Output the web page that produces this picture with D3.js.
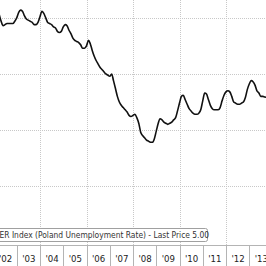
<!DOCTYPE html>
<html>
<head>
<meta charset="utf-8">
<style>
body { margin: 0; background: #fff; }
svg { display: block; }
.grid line { stroke: #c8c8c8; stroke-dasharray: 1,1; shape-rendering: crispEdges; }
.axis path, .axis line { stroke: #b4b4b4; shape-rendering: crispEdges; }
.axis text { font-family: "DejaVu Sans", sans-serif; font-size: 8.6px; fill: #222; }
.line { fill: none; stroke: #111; stroke-width: 1.6px; }
.legend rect { fill: #fff; stroke: #a0a0a0; }
.legend text { font-family: "DejaVu Sans Condensed", "DejaVu Sans", sans-serif; font-stretch: condensed; font-size: 8.4px; fill: #333; }
</style>
</head>
<body>
<svg width="266" height="266"></svg>
<script src="https://d3js.org/d3.v7.min.js"></script>
<script>

// Poland registered unemployment rate, monthly, %, from Mar 2002
var firstMonth = "2002-03";
var rate = [
  20.3, 19.7, 19.3, 19.4, 19.5, 19.5, 19.5, 19.5, 19.7, 20.0,
  20.5, 20.7, 20.6, 20.2, 19.9, 19.8, 19.7, 19.6, 19.4, 19.4, 19.6, 20.1,
  20.6, 20.4, 20.0, 19.6, 19.5, 19.4, 19.2, 19.1, 18.8, 18.7, 18.8, 19.2,
  19.4, 19.3, 18.9, 18.6, 18.2, 18.0, 17.9, 17.8, 17.6, 17.3, 17.3, 17.5,
  18.0, 17.7, 17.1, 16.6, 16.2, 15.9, 15.6, 15.4, 15.2, 15.0, 14.9, 14.8,
  15.0, 14.4, 13.7, 13.0, 12.5, 12.2, 12.0, 11.8, 11.6, 11.3, 11.2, 11.3,
  11.4, 11.1, 10.6, 9.8, 9.5, 9.3, 9.1, 9.0, 8.9, 8.9, 9.2, 9.9,
  10.6, 11.0, 10.9, 10.7, 10.6, 10.5, 10.6, 10.7, 10.9, 11.1, 11.7, 12.4,
  13.0, 13.1, 12.7, 12.3, 11.9, 11.7, 11.5, 11.4, 11.4, 11.5, 11.8, 12.6,
  13.3, 13.2, 12.7, 12.2, 11.9, 11.8, 11.8, 11.8, 12.0, 12.6, 13.1, 13.4,
  13.5, 13.4, 13.0, 12.5, 12.4, 12.3, 12.3, 12.4, 12.5, 12.9, 13.6, 14.1,
  14.4, 14.3, 14.0, 13.5, 13.3, 13.0, 13.0, 12.95, 12.9
];
var yTicks = [0, 5, 10, 15, 20];
var years = d3.range(2002, 2015);
var yearLabels = ["'02", "'03", "'04", "'05", "'06", "'07", "'08", "'09", "'10", "'11", "'12", "'13", ""];
var legendText = "ER Index (Poland Unemployment Rate) - Last Price 5.00";

var svg = d3.select("svg"),
    axisY = 244.5;

var start = d3.timeParse("%Y-%m")(firstMonth);
var data = rate.map(function(v, i) {
  // monthly values are plotted at the end of their month
  return { date: d3.timeMonth.offset(start, i + 1), value: v };
});

var x = d3.scaleTime()
    .domain([new Date(2002, 0, 1), new Date(2014, 0, 1)])
    .range([-6.5, 272.5]);

var y = d3.scaleLinear()
    .domain([0, 21.6])
    .range([242, 0]);

var yearDates = years.map(function(yr) { return new Date(yr, 0, 1); });

// grid
var grid = svg.append("g").attr("class", "grid");
grid.selectAll(".h")
    .data(yTicks.filter(function(d) { return d > 0; }))
  .enter().append("line")
    .attr("x1", 0).attr("x2", 266)
    .attr("y1", function(d) { return Math.round(y(d)) + 0.5; })
    .attr("y2", function(d) { return Math.round(y(d)) + 0.5; });
grid.selectAll(".v")
    .data(yearDates.filter(function(d) { return d.getFullYear() % 2 == 0; }))
  .enter().append("line")
    .attr("y1", 0).attr("y2", axisY)
    .attr("x1", function(d) { return Math.round(x(d)) + 0.5; })
    .attr("x2", function(d) { return Math.round(x(d)) + 0.5; });

var line = d3.line()
    .curve(d3.curveMonotoneX)
    .x(function(d) { return x(d.date); })
    .y(function(d) { return y(d.value); });

svg.append("path")
    .datum(data)
    .attr("class", "line")
    .attr("d", line);

// x axis: year separators with labels centred in each year
var halfYear = (x(yearDates[1]) - x(yearDates[0])) / 2;
var xAxis = d3.axisBottom(x)
    .tickValues(yearDates)
    .tickFormat(function(d, i) { return yearLabels[i]; })
    .tickSize(22)
    .tickSizeOuter(0);

var gx = svg.append("g")
    .attr("class", "axis")
    .attr("transform", "translate(0," + axisY + ")")
    .call(xAxis);
gx.select(".domain").attr("d", "M0,0.5H266");
gx.selectAll(".tick text")
    .attr("x", halfYear)
    .attr("y", 17.5)
    .attr("dy", 0);

// legend
var legend = svg.append("g").attr("class", "legend");
legend.append("rect")
    .attr("x", -4.5).attr("y", 228.5)
    .attr("width", 212).attr("height", 13)
    .attr("rx", 2);
legend.append("text")
    .attr("x", -0.5).attr("y", 238)
    .text(legendText);

</script>
</body>
</html>
